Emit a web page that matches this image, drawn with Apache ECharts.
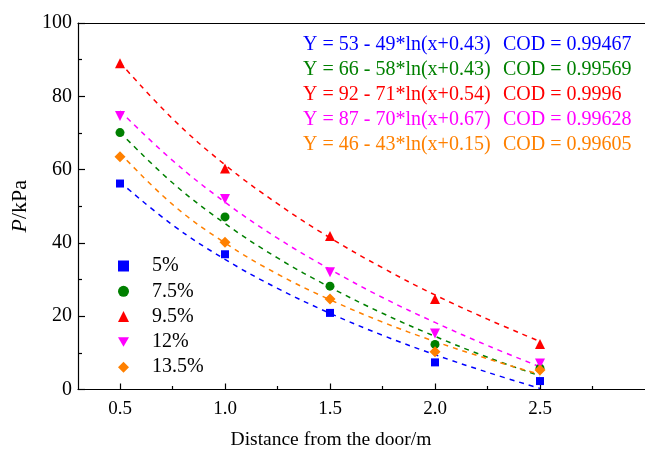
<!DOCTYPE html>
<html>
<head>
<meta charset="utf-8">
<script src="https://cdn.jsdelivr.net/npm/echarts@6/dist/echarts.min.js"></script>
<style>html,body{margin:0;padding:0;background:#fff}#c{width:645px;height:452px}</style>
</head>
<body>
<div id="c"></div>
<script>
const xs = [0.5, 1.0, 1.5, 2.0, 2.5];
const names = ['5%', '7.5%', '9.5%', '12%', '13.5%'];
const p5 = [56.2, 36.9, 20.9, 7.4, 2.3];
const p75 = [70.1, 47.1, 28.2, 12.3, 5.8];
const p95 = [89.0, 60.3, 41.9, 24.7, 12.4];
const p12 = [74.6, 52.0, 32.0, 15.3, 7.1];
const p135 = [63.5, 40.2, 24.7, 10.3, 5.3];

const fitX = [0.5, 0.75, 1.0, 1.25, 1.5, 1.75, 2.0, 2.25, 2.5];
const fit5 = [56.6, 44.9, 35.5, 27.6, 20.8, 14.8, 9.5, 4.7, 0.3];
const fit75 = [70.2, 56.4, 45.3, 35.9, 27.9, 20.8, 14.5, 8.8, 3.7];
const fit95 = [89.2, 73.9, 61.3, 50.7, 41.4, 33.2, 25.8, 19.2, 13.1];
const fit12 = [76.0, 62.5, 51.1, 41.3, 32.8, 25.1, 18.3, 12.0, 6.2];
const fit135 = [64.5, 50.5, 40.0, 31.5, 24.5, 18.4, 13.1, 8.4, 4.1];

const eqs = ['Y = 53 - 49*ln(x+0.43)', 'Y = 66 - 58*ln(x+0.43)', 'Y = 92 - 71*ln(x+0.54)', 'Y = 87 - 70*ln(x+0.67)', 'Y = 46 - 43*ln(x+0.15)'];
const cods = ['COD = 0.99467', 'COD = 0.99569', 'COD = 0.9996', 'COD = 0.99628', 'COD = 0.99605'];
const xTicks = [0.5, 1.0, 1.5, 2.0, 2.5];
const xMinor = [0.75, 1.25, 1.75, 2.25, 2.75];

const colors = ['#0000FF', '#008000', '#FF0000', '#FF00FF', '#FF8000'];
const invTri = 'path://M0,0 L10,0 L5,8.66 Z';
const symbols = ['rect', 'circle', 'triangle', invTri, 'diamond'];
const symSize = [8, 9, 10, 10, 11];
const pts = [p5, p75, p95, p12, p135];
const fits = [fit5, fit75, fit95, fit12, fit135];
const FONT = '"Liberation Serif", "Times New Roman", serif';

const series = [];
fits.forEach((f, i) => {
  series.push({
    type: 'line', xAxisIndex: 0, yAxisIndex: 0, silent: true,
    data: fitX.map((x, j) => [x, f[j]]), showSymbol: false, symbol: 'none',
    smooth: 0.4, lineStyle: { color: colors[i], width: 1.5, type: [5, 5] }, z: 2
  });
});
pts.forEach((p, i) => {
  series.push({
    type: 'scatter', name: names[i], xAxisIndex: 0, yAxisIndex: 0,
    data: xs.map((x, j) => [x, p[j]]), symbol: symbols[i],
    symbolSize: symSize[i], itemStyle: { color: colors[i], opacity: 1 }, z: 3
  });
});

const graphics = [];
eqs.forEach((e, i) => {
  graphics.push({ type: 'text', left: 303, top: 35 + i * 25, style: { text: e, fill: colors[i], font: '20px ' + FONT } });
  graphics.push({ type: 'text', left: 503, top: 35 + i * 25, style: { text: cods[i], fill: colors[i], font: '20px ' + FONT } });
});
graphics.push({ type: 'text', x: 331, y: 440, style: { text: 'Distance from the door/m', fill: '#000', font: '19.5px ' + FONT, align: 'center', verticalAlign: 'middle' } });

const chart = echarts.init(document.getElementById('c'));
chart.setOption({
  animation: false,
  backgroundColor: '#fff',
  grid: { left: 78, top: 23, right: -3.5, bottom: 62.5, containLabel: false },
  legend: {
    orient: 'vertical', left: 113, top: 251, itemWidth: 11, itemHeight: 11, itemGap: 5.3,
    data: names.map((n, i) => ({ name: n, icon: symbols[i], itemStyle: { color: colors[i], opacity: 1 } })),
    textStyle: { fontFamily: FONT, fontSize: 20, color: '#000', padding: [0, 0, 0, 18], lineHeight: 20 }
  },
  xAxis: [
    {
      type: 'value', min: 0.3, max: 3.0, position: 'bottom',
      axisLine: { show: true, lineStyle: { color: '#000', width: 1.2 } },
      axisTick: { show: true, inside: true, length: 6, customValues: xTicks, lineStyle: { color: '#000', width: 1.2 } },
      axisLabel: { customValues: xTicks, formatter: v => v.toFixed(1), fontFamily: FONT, fontSize: 19, color: '#000', margin: 10 },
      splitLine: { show: false }
    },
    {
      type: 'value', min: 0.3, max: 3.0, position: 'bottom',
      axisLine: { show: false },
      axisTick: { show: true, inside: true, length: 3.5, customValues: xMinor, lineStyle: { color: '#000', width: 1.2 } },
      axisLabel: { show: false }, splitLine: { show: false }
    },
    {
      type: 'value', min: 0.3, max: 3.0, position: 'top',
      axisLine: { show: true, lineStyle: { color: '#000', width: 1.2 } },
      axisTick: { show: false }, axisLabel: { show: false }, splitLine: { show: false }
    }
  ],
  yAxis: {
    type: 'value', min: 0, max: 100, interval: 20,
    name: '{i|P}/kPa', nameLocation: 'middle', nameGap: 45,
    nameTextStyle: { fontFamily: FONT, fontSize: 22, color: '#000', rich: { i: { fontStyle: 'italic', fontFamily: FONT, fontSize: 22 } } },
    axisLine: { show: true, lineStyle: { color: '#000', width: 1.2 } },
    axisTick: { show: true, inside: true, length: 7, lineStyle: { color: '#000', width: 1.2 } },
    minorTick: { show: true, splitNumber: 2, length: 4, lineStyle: { color: '#000', width: 1.2 } },
    axisLabel: { fontFamily: FONT, fontSize: 20, color: '#000', margin: 6 },
    splitLine: { show: false }
  },
  graphic: graphics,
  series: series
});
</script>
</body>
</html>
